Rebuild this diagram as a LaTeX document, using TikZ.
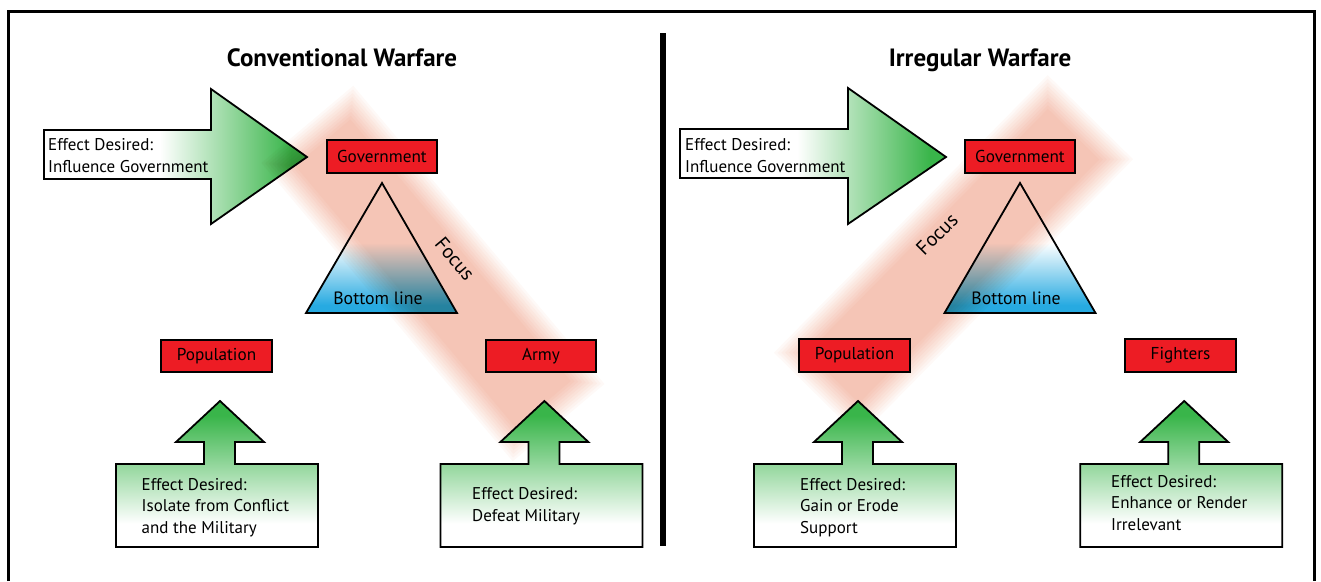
\documentclass[tikz,border=0pt]{standalone}
\usepackage{fontspec}
\setmainfont{PT Sans}
\definecolor{boxred}{RGB}{237,28,36}
\definecolor{effgreen}{RGB}{57,181,74}
\definecolor{bluefill}{RGB}{39,170,225}
% one of ten stacked layers; multiplied together they give the salmon core of the focus band
\definecolor{bandlayer}{rgb}{0.99722,0.97600,0.96842}
\pgfdeclarehorizontalshading{bigarrowshade}{100bp}{color(0bp)=(white); color(47bp)=(white); color(72bp)=(effgreen); color(100bp)=(effgreen)}
\pgfdeclareverticalshading{uparrowshade}{100bp}{color(0bp)=(white); color(33bp)=(white); color(70bp)=(effgreen); color(100bp)=(effgreen)}
\pgfdeclareverticalshading{triangleshade}{100bp}{color(0bp)=(bluefill); color(28bp)=(bluefill); color(52bp)=(white); color(100bp)=(white)}

\tikzset{
  frameline/.style={line width=3pt, black},
  divider/.style={line width=6pt, black},
  titletext/.style={font=\fontsize{25}{28}\selectfont\bfseries, inner sep=0pt},
  bodytext/.style={font=\fontsize{17}{21.5}\selectfont, align=left, inner sep=0pt},
  linetext/.style={font=\fontsize{17.8}{20}\selectfont, inner sep=0pt},
  focustext/.style={font=\fontsize{20}{22}\selectfont, inner sep=0pt},
  redbox/.style={draw=black, line width=1.8pt, fill=boxred, minimum width=110pt,
    minimum height=32.5pt, inner sep=0pt, font=\fontsize{17.2}{19}\selectfont},
  bigarrow/.style={draw=black, line width=1.8pt, line join=miter, shading=bigarrowshade},
  uparrow/.style={draw=black, line width=1.8pt, line join=miter, shading=uparrowshade},
  bottomtri/.style={draw=black, line width=1.8pt, line join=miter, shading=triangleshade, blend mode=multiply},
  bandpiece/.style={fill=bandlayer, draw=none},
}

% up arrow standing on a text box; #1 = x of the arrow point
\newcommand\effectarrow[1]{%
  \path[uparrow] ({#1-104},464) -- ({#1-16},464) -- ({#1-16},442) -- ({#1-44},442)
    -- (#1,401) -- ({#1+44},442) -- ({#1+15},442) -- ({#1+15},464) -- ({#1+98},464)
    -- ({#1+98},547) -- ({#1-104},547) -- cycle;}

% soft-edged focus band: nested rectangles multiplied onto the page
\newcommand\focusband[3]{%
  \begin{scope}[shift={(#1,#2)}, rotate=#3, blend mode=multiply]
    \foreach \k in {0,...,9}{
      \pgfmathsetmacro\hl{195-\k*24/9}
      \pgfmathsetmacro\hw{60-\k*24/9}
      \fill[bandpiece] (-\hl,-\hw) rectangle (\hl,\hw);
    }
  \end{scope}}

\begin{document}
\begin{tikzpicture}[x=1pt,y=-1pt]
\useasboundingbox (0,0) rectangle (1321,581);

% outer frame (open at the bottom) and middle divider
\draw[frameline] (8.5,581) -- (8.5,11) -- (1314.5,11) -- (1314.5,581);
\draw[divider] (662.5,33) -- (662.5,546);

% titles
\node[titletext, anchor=base] (titleL) at (342,66) {Conventional Warfare};
\node[titletext, anchor=base] (titleR) at (980,66) {Irregular Warfare};

% large arrows pointing at the government
\path[bigarrow] (44,130) -- (211,130) -- (211,89) -- (307,157) -- (211,224) -- (211,179) -- (44,179) -- cycle;
\path[bigarrow] (680,129) -- (848,129) -- (848,88) -- (946,157) -- (848,224) -- (848,178) -- (680,178) -- cycle;

% focus bands
\focusband{433}{273.5}{-49.9}
\focusband{953.5}{256}{45.4}

% bottom-line triangles
\path[bottomtri] (382,183) -- (457,313) -- (306,313) -- cycle;
\path[bottomtri] (1020,183) -- (1095.5,313) -- (944.5,313) -- cycle;

% actors
\node[redbox] (govL) at (382,156.5) {Government};
\node[redbox, minimum width=111pt] (popL) at (216.5,356) {Population};
\node[redbox] (armyL) at (541,356) {Army};
\node[redbox] (govR) at (1020,156.5) {Government};
\node[redbox, minimum width=111pt] (popR) at (854.5,355.5) {Population};
\node[redbox, minimum width=111pt] (fightR) at (1180.5,355.5) {Fighters};

% effect arrows
\effectarrow{220}
\effectarrow{544.4}
\effectarrow{858}
\effectarrow{1184.2}

% texts (multi-line nodes are placed by the baseline of their last line)
\node[bodytext, anchor=base west] (effGovL) at (48,172) {Effect Desired:\\Influence Government};
\node[bodytext, anchor=base west] (effGovR) at (685,172) {Effect Desired:\\Influence Government};
\node[linetext, anchor=base] (bottomL) at (378,304) {Bottom line};
\node[linetext, anchor=base] (bottomR) at (1016,304) {Bottom line};
\node[focustext, rotate=-50] (focusL) at (455,259) {Focus};
\node[focustext, rotate=45] (focusR) at (937,234) {Focus};
\node[bodytext, anchor=base west] (effPopL) at (141.5,533) {Effect Desired:\\Isolate from Conflict\\and the Military};
\node[bodytext, anchor=base west] (effArmyL) at (472,521) {Effect Desired:\\Defeat Military};
\node[bodytext, anchor=base west] (effPopR) at (800,533) {Effect Desired:\\Gain or Erode\\Support};
\node[bodytext, anchor=base west] (effFightR) at (1111,530) {Effect Desired:\\Enhance or Render\\Irrelevant};
\end{tikzpicture}
\end{document}
